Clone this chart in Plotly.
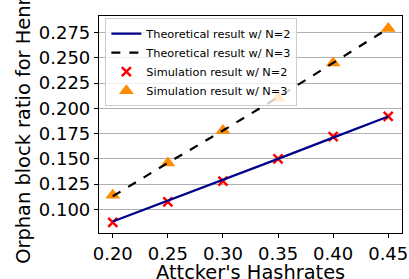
import plotly.graph_objects as go

hashrates = [0.20, 0.25, 0.30, 0.35, 0.40, 0.45]
theory_n2 = [0.088, 0.1085, 0.129, 0.150, 0.171, 0.192]
theory_n3 = [0.113, 0.146, 0.178, 0.211, 0.245, 0.279]
sim_n2 = [0.087, 0.1075, 0.128, 0.150, 0.172, 0.192]
sim_n3 = [0.114, 0.146, 0.178, 0.210, 0.245, 0.279]
y_ticks = [0.100, 0.125, 0.150, 0.175, 0.200, 0.225, 0.250, 0.275]
x_ticks = [0.20, 0.25, 0.30, 0.35, 0.40, 0.45]
x_title = "Attcker's Hashrates"
y_title = "Orphan block ratio for Henry"

FONT = "DejaVu Sans"

fig = go.Figure()
# markers first (drawn beneath lines, as in the reference)
fig.add_trace(go.Scatter(x=hashrates, y=sim_n2, mode="markers",
                         name="Simulation result w/ N=2", legendrank=3,
                         marker=dict(symbol="x-thin-open", size=9, color="red",
                                     line=dict(color="red", width=2.5))))
fig.add_trace(go.Scatter(x=hashrates, y=sim_n3, mode="markers",
                         name="Simulation result w/ N=3", legendrank=4,
                         marker=dict(symbol="triangle-up", size=13, color="darkorange",
                                     line=dict(width=0))))
fig.add_trace(go.Scatter(x=hashrates, y=theory_n2, mode="lines",
                         name="Theoretical result w/ N=2", legendrank=1,
                         line=dict(color="darkblue", width=2.2)))
fig.add_trace(go.Scatter(x=hashrates, y=theory_n3, mode="lines",
                         name="Theoretical result w/ N=3", legendrank=2,
                         line=dict(color="black", width=2.2, dash="dash")))

fig.update_layout(
    width=409, height=279,
    margin=dict(l=99, r=7, t=16, b=46, autoexpand=False),
    paper_bgcolor="white", plot_bgcolor="white",
    font=dict(family=FONT, size=18, color="black"),
    showlegend=True,
    legend=dict(x=0.021, y=0.99, xanchor="left", yanchor="top",
                bgcolor="rgba(255,255,255,0.8)", bordercolor="#cccccc", borderwidth=1,
                font=dict(family=FONT, size=11.3), tracegroupgap=0,
                traceorder="normal"),
    xaxis=dict(range=[0.1875, 0.4625], tickvals=x_ticks,
               ticktext=[f"{v:.2f}" for v in x_ticks],
               showgrid=False, zeroline=False,
               showline=True, linecolor="black", linewidth=1.2, mirror=True,
               ticks="outside", ticklen=4, tickcolor="black"),
    yaxis=dict(range=[0.0766, 0.2914], tickvals=y_ticks,
               ticktext=[f"{v:.3f}" for v in y_ticks],
               showgrid=True, gridcolor="#b0b0b0", gridwidth=1, zeroline=False,
               showline=True, linecolor="black", linewidth=1.2, mirror=True,
               ticks="outside", ticklen=4, tickcolor="black"),
    annotations=[
        dict(text=x_title, xref="paper", yref="paper", x=0.5, y=-0.118,
             xanchor="center", yanchor="top", showarrow=False,
             font=dict(family=FONT, size=19.4)),
        dict(text=y_title, xref="paper", yref="paper", x=-0.25, y=0.5,
             xanchor="center", yanchor="middle", textangle=-90, showarrow=False,
             font=dict(family=FONT, size=19.4)),
    ],
)

fig.write_html("out.html", config={"displayModeBar": False},
               post_script="document.body.style.margin='0px';document.body.style.overflow='hidden';")
